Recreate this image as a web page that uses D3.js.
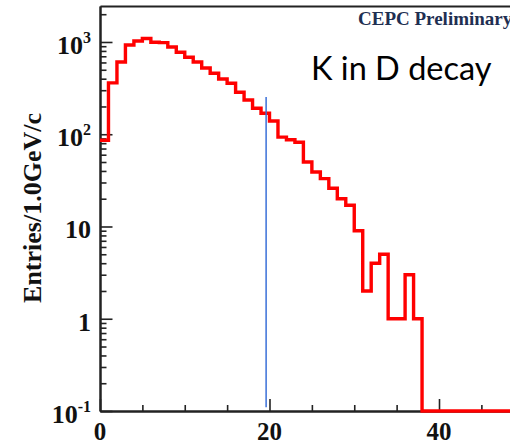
<!DOCTYPE html>
<html>
<head>
<meta charset="utf-8">
<script src="https://cdn.jsdelivr.net/npm/d3@7"></script>
<style>
  body { margin: 0; background: #fff; }
  svg { display: block; }
  .tick-label { font-family: "Liberation Serif", "DejaVu Serif", serif; font-weight: bold; fill: #111; }
</style>
</head>
<body>
<div id="chart"></div>
<script>
// bin contents, 1 GeV bins starting at 0
const binStart = 0;
const binWidth = 1;
const counts = [86, 360, 607, 928, 1025, 1091, 992, 985, 883, 773,
                683, 607, 523, 458, 397, 357, 285, 235, 191, 169,
                139, 93, 87, 82, 50, 39, 33, 26, 20, 17,
                9, 2, 4, 5, 1, 1, 3, 1, 0, 0,
                0, 0, 0, 0, 0, 0, 0, 0, 0, 0];

// vertical marker (cut)
const cutX = 19.6;
const cutRange = [0.11, 253];

const yMajor = [0.1, 1, 10, 100, 1000];
const yLabels = [["10", "-1"], ["1", ""], ["10", ""], ["10", "2"], ["10", "3"]];
const xMajor = [0, 20, 40];
const xMinor = [5, 10, 15, 25, 30, 35, 45];
const xLabels = ["0", "20", "40"];

const yTitle = "Entries/1.0GeV/c";
const tag = "CEPC Preliminary";
const note = "K in D decay";

const W = 510, H = 445;
const mLeft = 100, mTop = 6, mBottom = 411;

const svg = d3.select("#chart").append("svg")
  .attr("width", W).attr("height", H);

const x = d3.scaleLinear().domain([0, 50]).range([mLeft, mLeft + 50 * 8.475]);
const y = d3.scaleLog().domain([0.1, 2455]).range([mBottom, mTop]);

// minor y ticks: 2..9 x each decade
const yMinor = [];
for (let d = 0.1; d < 2455; d *= 10) {
  for (let k = 2; k <= 9; k++) {
    const v = +(k * d).toPrecision(3);
    if (v < 2455) yMinor.push(v);
  }
}

function styleAxis(g) {
  g.selectAll("path.domain").attr("stroke", "#222").attr("stroke-width", 2);
  g.selectAll(".tick line").attr("stroke", "#222").attr("stroke-width", 1.6);
}

// y axis (ticks pointing inward)
svg.append("g").attr("transform", `translate(${mLeft},0)`)
  .call(d3.axisLeft(y).tickValues(yMinor).tickSizeInner(-6.5).tickSizeOuter(0).tickFormat(""))
  .call(styleAxis);
svg.append("g").attr("transform", `translate(${mLeft},0)`)
  .call(d3.axisLeft(y).tickValues(yMajor).tickSizeInner(-12.5).tickSizeOuter(0).tickFormat(""))
  .call(styleAxis);

// x axis
svg.append("g").attr("transform", `translate(0,${mBottom})`)
  .call(d3.axisBottom(x).tickValues(xMinor).tickSizeInner(-6).tickSizeOuter(0).tickFormat(""))
  .call(styleAxis);
svg.append("g").attr("transform", `translate(0,${mBottom})`)
  .call(d3.axisBottom(x).tickValues(xMajor).tickSizeInner(-12).tickSizeOuter(0).tickFormat(""))
  .call(styleAxis);

// top frame
svg.append("g").attr("transform", `translate(0,${mTop})`)
  .call(d3.axisTop(x).tickValues([]).tickSizeOuter(0))
  .call(styleAxis);

// y tick labels with exponents
const yl = svg.append("g").selectAll("text")
  .data(yMajor)
  .join("text")
  .attr("class", "tick-label")
  .attr("text-anchor", "end")
  .attr("x", 91)
  .attr("y", d => y(d) + 12)
  .attr("font-size", 26);
yl.append("tspan").text((d, i) => yLabels[i][0]);
yl.filter((d, i) => yLabels[i][1] !== "")
  .append("tspan")
  .attr("dy", -11)
  .attr("font-size", 16)
  .text(d => yLabels[yMajor.indexOf(d)][1]);

// x tick labels
svg.append("g").selectAll("text")
  .data(xMajor)
  .join("text")
  .attr("class", "tick-label")
  .attr("text-anchor", "middle")
  .attr("x", d => x(d))
  .attr("y", 440)
  .attr("font-size", 25)
  .text((d, i) => xLabels[i]);

// y title
svg.append("text")
  .attr("class", "tick-label")
  .attr("transform", `translate(41,208) rotate(-90)`)
  .attr("text-anchor", "middle")
  .attr("font-size", 26)
  .text(yTitle);

// histogram as a step line
const pts = [];
counts.forEach((c, i) => {
  const lo = binStart + i * binWidth, hi = lo + binWidth;
  const v = Math.max(c, 0.1);
  pts.push([x(lo), y(v)], [x(hi), y(v)]);
});
svg.append("path")
  .attr("d", d3.line()(pts))
  .attr("fill", "none")
  .attr("stroke", "#ff0000")
  .attr("stroke-width", 3.4)
  .attr("stroke-linejoin", "miter");

// cut marker
svg.append("line")
  .attr("x1", x(cutX)).attr("x2", x(cutX))
  .attr("y1", y(cutRange[0])).attr("y2", y(cutRange[1]))
  .attr("stroke", "#3a6fd8")
  .attr("stroke-width", 1.5);

// labels
svg.append("text")
  .attr("x", 358).attr("y", 25)
  .attr("font-family", "Liberation Serif, serif")
  .attr("font-weight", "bold")
  .attr("font-size", 19)
  .attr("fill", "#1f2f52")
  .text(tag);

svg.append("text")
  .attr("x", 311).attr("y", 80)
  .attr("font-family", "Lato, 'Open Sans', sans-serif")
  .attr("font-size", 32.5)
  .attr("fill", "#000")
  .text(note);
</script>
</body>
</html>
